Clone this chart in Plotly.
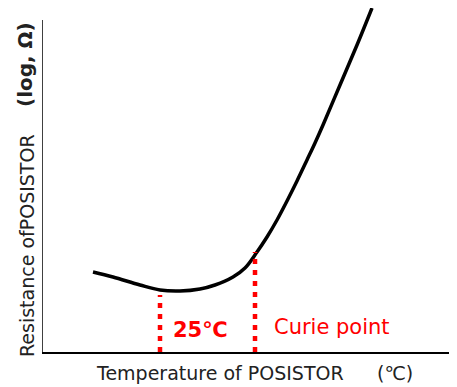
import plotly.graph_objects as go

# Curve (arbitrary units: x = temperature, y = log resistance)
temp = [51, 71, 98, 118, 138, 158, 173, 191, 203, 215, 225, 235, 245, 255, 265, 273, 281, 298, 315, 330]
log_res = [80, 75, 67, 62, 61, 63, 67, 75, 84, 100, 115, 132, 151, 171, 192, 209, 227, 267, 307, 344]

# Marker positions
room_temp_x = 118
room_temp_top = 57
curie_x = 213
curie_top = 100

labels = ["25℃", "Curie point"]
label_x = [158, 290]
label_y = [22, 25]

x_title = "Temperature of POSISTOR"
x_unit = "(℃)"
y_title = "Resistance ofPOSISTOR"
y_unit = "(log, Ω)"

FONT = "DejaVu Sans"
RED = "#ff0000"
TXT = "#222222"

# page offset of 8px (browser body margin) is compensated in the figure size
L, TOP_PAGE, BOTTOM_PAGE, PW = 42, 8, 352, 415
PH = BOTTOM_PAGE - TOP_PAGE


def px(x):
    return (x - L) / PW


def py(y):
    return (BOTTOM_PAGE - y) / PH


fig = go.Figure()
fig.add_trace(go.Scatter(x=temp, y=log_res, mode="lines",
                         line=dict(color="black", width=3.5, shape="spline", smoothing=1.0),
                         hoverinfo="skip"))
for xv, top in [(room_temp_x, room_temp_top), (curie_x, curie_top)]:
    fig.add_trace(go.Scatter(x=[xv, xv], y=[0, top], mode="lines",
                             line=dict(color=RED, width=4.5, dash="5px,6px"),
                             hoverinfo="skip"))

fig.add_annotation(x=label_x[0], y=label_y[0], text="<b>" + labels[0] + "</b>", showarrow=False,
                   xanchor="center", yanchor="middle",
                   font=dict(family=FONT, size=21, color=RED))
fig.add_annotation(x=label_x[1], y=label_y[1], text=labels[1], showarrow=False,
                   xanchor="center", yanchor="middle",
                   font=dict(family=FONT, size=21, color=RED))

fig.add_annotation(xref="paper", yref="paper", x=px(219.5), y=py(373),
                   xanchor="center", yanchor="middle",
                   text=x_title, showarrow=False, font=dict(family=FONT, size=19, color=TXT))
fig.add_annotation(xref="paper", yref="paper", x=px(395), y=py(373),
                   xanchor="center", yanchor="middle",
                   text=x_unit, showarrow=False, font=dict(family=FONT, size=19, color=TXT))
fig.add_annotation(xref="paper", yref="paper", x=px(27), y=py(246),
                   xanchor="center", yanchor="middle",
                   text=y_title, textangle=-90, showarrow=False,
                   font=dict(family=FONT, size=19, color=TXT))
fig.add_annotation(xref="paper", yref="paper", x=px(25), y=py(65),
                   xanchor="center", yanchor="middle",
                   text="<b>" + y_unit + "</b>", textangle=-90, showarrow=False,
                   font=dict(family=FONT, size=20, color=TXT))

# y axis line (shorter than plot area)
fig.add_shape(type="line", xref="x", yref="y", x0=0, x1=0, y0=0, y1=332,
              line=dict(color="black", width=1.5))

fig.update_layout(
    width=457 - 8, height=387 - 8,
    margin=dict(l=L - 8, r=0, t=TOP_PAGE - 8, b=387 - BOTTOM_PAGE),
    paper_bgcolor="white", plot_bgcolor="white",
    showlegend=False,
    xaxis=dict(range=[0, PW], showgrid=False, zeroline=False, showticklabels=False,
               ticks="", showline=True, linecolor="black", linewidth=1.5, fixedrange=True),
    yaxis=dict(range=[0, PH], showgrid=False, zeroline=False, showticklabels=False,
               ticks="", showline=False, fixedrange=True),
)

fig.write_html("out.html", config={"displayModeBar": False})
